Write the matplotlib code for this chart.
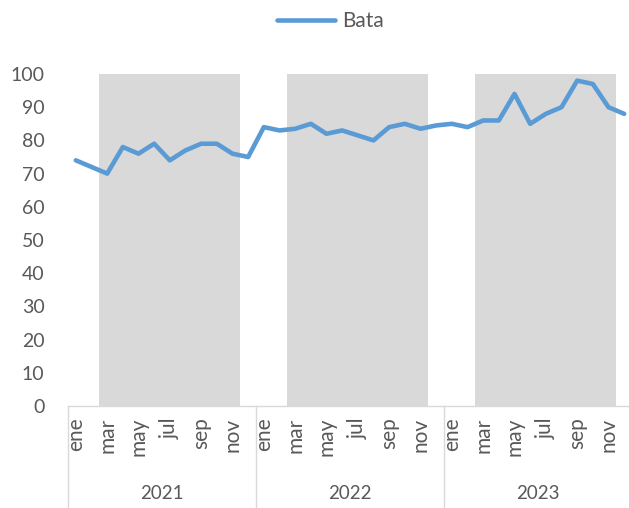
import matplotlib
matplotlib.use("Agg")
import matplotlib.pyplot as plt
from matplotlib.lines import Line2D

plt.rcParams['font.family'] = ['Lato', 'DejaVu Sans']

years = ["2021", "2022", "2023"]
months = ["ene", "feb", "mar", "abr", "may", "jun", "jul", "ago", "sep", "oct", "nov", "dic"]
bata = [74, 72, 70, 78, 76, 79, 74, 77, 79, 79, 76, 75,
        84, 83, 83.5, 85, 82, 83, 81.5, 80, 84, 85, 83.5, 84.5,
        85, 84, 86, 86, 94, 85, 88, 90, 98, 97, 90, 88]
shade = [0, 0, 100, 100, 100, 100, 100, 100, 100, 100, 100, 0] * 3

W, H = 629, 508
fig = plt.figure(figsize=(W / 100, H / 100), dpi=100)
left, right, top, bottom = 68, 632, 74, 406
ax = fig.add_axes([left / W, 1 - bottom / H, (right - left) / W, (bottom - top) / H])

n = len(bata)
x = list(range(n))
ax.bar(x, shade, width=1.0, color="#D9D9D9", zorder=1)
ax.plot(x, bata, color="#5B9BD5", lw=3.3, solid_capstyle="round", solid_joinstyle="round", zorder=3, label="Bata")

ax.set_xlim(-0.5, n - 0.5)
ax.set_ylim(0, 100)
ax.set_yticks(range(0, 101, 10))
ax.tick_params(axis='y', length=0, labelsize=14, labelcolor="#595959", pad=17)
ax.tick_params(axis='x', length=0)
ax.set_xticks([])

for s in ["top", "right", "left"]:
    ax.spines[s].set_visible(False)
ax.spines["bottom"].set_color("#D9D9D9")
ax.spines["bottom"].set_linewidth(1)

tr = ax.get_xaxis_transform()
bot_frac = -(H - bottom) / (bottom - top)
labels_all = [m for _ in years for m in months]
for i, lab in enumerate(labels_all):
    if i % 2 == 0:
        ax.text(i, -0.035, lab, transform=tr, rotation=90, ha="center", va="top",
                fontsize=15, color="#595959")
for k, yr in enumerate(years):
    ax.text(12 * k + 5.5, -0.265, yr, transform=tr, ha="center", va="center",
            fontsize=13.5, color="#595959")
for k in range(len(years) + 1):
    xb = 12 * k - 0.5
    ax.add_line(Line2D([xb, xb], [0, bot_frac], transform=tr, color="#D9D9D9",
                       lw=1, clip_on=False))

leg = fig.legend(handles=[Line2D([], [], color="#5B9BD5", lw=3.3, solid_capstyle="round")],
                 labels=["Bata"], loc="center", bbox_to_anchor=(0.525, 1 - 21 / H),
                 frameon=False, fontsize=15, handlelength=2.8, handletextpad=0.3,
                 labelcolor="#595959")

fig.savefig("out.png", dpi=100)
